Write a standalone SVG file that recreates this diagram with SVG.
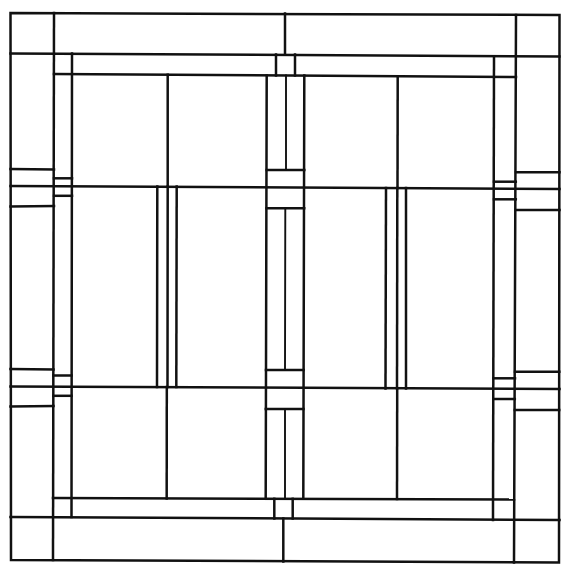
<svg xmlns="http://www.w3.org/2000/svg" width="567" height="572" viewBox="0 0 567 572">
<style>
line, polygon { stroke: #111111; stroke-width: 2.5; fill: none; stroke-linecap: square; }
.thin { stroke-width: 1.9; }
</style>
<rect x="0" y="0" width="567" height="572" fill="#ffffff"/>
<g id="frame">
<polygon points="10.5,13 559.5,15 559,562.5 11,560"/>
<line x1="10.5" y1="53.5" x2="559.5" y2="56.5"/>
<line x1="10.5" y1="186" x2="559.5" y2="189"/>
<line x1="10.5" y1="386.5" x2="559.5" y2="389"/>
<line x1="10.5" y1="517" x2="559.5" y2="520"/>
<line x1="54" y1="13" x2="53" y2="560"/>
<line x1="516" y1="15" x2="514" y2="562.5"/>
<line x1="72" y1="53.5" x2="71.5" y2="517"/>
<line x1="494" y1="56.5" x2="493" y2="520"/>
<line x1="54" y1="74" x2="516" y2="77"/>
<line x1="53" y1="498" x2="514" y2="499.5"/>
</g>
<g id="top-bottom-bands">
<line x1="285" y1="13.5" x2="285" y2="54.5"/>
<line x1="276" y1="54.5" x2="276" y2="75.5"/>
<line x1="295" y1="54.5" x2="295" y2="75.5"/>
<line x1="283.3" y1="518.5" x2="283.3" y2="561.5"/>
<line x1="274.3" y1="498.8" x2="274.3" y2="518.5"/>
<line x1="292.7" y1="498.8" x2="292.7" y2="518.5"/>
</g>
<g id="center-column">
<line x1="266.7" y1="75.5" x2="265.7" y2="498.8"/>
<line x1="304.3" y1="75.5" x2="303.3" y2="498.8"/>
<line x1="266.7" y1="170" x2="304.3" y2="170"/>
<line x1="266.5" y1="208.3" x2="304.2" y2="208.3"/>
<line x1="266" y1="370" x2="303.6" y2="370"/>
<line x1="265.8" y1="409" x2="303.5" y2="409"/>
<line class="thin" x1="286" y1="75.5" x2="286" y2="170"/>
<line class="thin" x1="285.3" y1="208.3" x2="285" y2="370"/>
<line class="thin" x1="285" y1="409" x2="285" y2="498.8"/>
</g>
<g id="blocks">
<line x1="167.7" y1="74.7" x2="167.7" y2="186.5"/>
<line x1="166.8" y1="387" x2="166.7" y2="498.5"/>
<line x1="397.7" y1="76.5" x2="397.5" y2="188"/>
<line x1="397.2" y1="388.5" x2="397" y2="499"/>
<line x1="157.3" y1="186.5" x2="157" y2="387"/>
<line x1="167.7" y1="186.5" x2="167.5" y2="387"/>
<line x1="176.7" y1="186.5" x2="176.3" y2="387"/>
<line x1="386" y1="188" x2="385.5" y2="388.5"/>
<line x1="397.3" y1="188" x2="397" y2="388.5"/>
<line x1="406" y1="188" x2="406" y2="388.5"/>
</g>
<g id="left-side">
<line x1="10.5" y1="169" x2="54" y2="169.5"/>
<line x1="10.5" y1="206.5" x2="54" y2="206"/>
<line x1="10.5" y1="369" x2="53.5" y2="369.5"/>
<line x1="10.5" y1="406.5" x2="53.5" y2="406"/>
<line x1="54" y1="178.3" x2="72" y2="178.3"/>
<line x1="54" y1="195.8" x2="72" y2="195.8"/>
<line x1="53.5" y1="375.5" x2="71.5" y2="375.5"/>
<line x1="53.5" y1="395.8" x2="71.5" y2="395.8"/>
</g>
<g id="right-side">
<line x1="516" y1="172.3" x2="559.5" y2="172.3"/>
<line x1="516" y1="210" x2="559.5" y2="210"/>
<line x1="515" y1="371.8" x2="559.3" y2="371.8"/>
<line x1="514.8" y1="410" x2="559.2" y2="410"/>
<line x1="494" y1="181.7" x2="515.8" y2="181.7"/>
<line x1="494" y1="199.3" x2="515.8" y2="199.3"/>
<line x1="493.5" y1="378.3" x2="515" y2="378.3"/>
<line x1="493.3" y1="399" x2="514.8" y2="399"/>
</g>
</svg>
